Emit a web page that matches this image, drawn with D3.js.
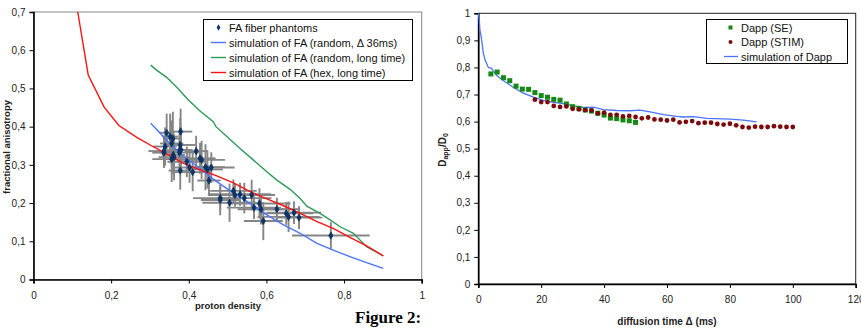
<!DOCTYPE html>
<html>
<head>
<meta charset="utf-8">
<script src="https://cdn.jsdelivr.net/npm/d3@7"></script>
<style>
  body { margin: 0; background: #fff; }
  svg { font-family: "Liberation Sans", Arial, sans-serif; }
  .tick text { font-size: 10px; fill: #222; }
  .axTitle { font-size: 9.5px; font-weight: bold; fill: #222; }
  .leg { font-size: 11px; fill: #111; }
</style>
</head>
<body>
<svg id="fig" width="861" height="328"></svg>
<script>
// ---- left chart: FA vs proton density ----
const phantomPD  = [0.343,0.379,0.352,0.359,0.356,0.339,0.336,0.378,0.380,0.376,0.362,0.356,0.395,0.378,0.402,0.410,0.419,0.429,0.433,0.443,0.448,0.458,0.452,0.481,0.481,0.505,0.515,0.519,0.532,0.543,0.562,0.582,0.568,0.586,0.592,0.627,0.651,0.657,0.671,0.684,0.766,0.360,0.336,0.377];
const phantomFA  = [0.384,0.387,0.374,0.369,0.356,0.348,0.336,0.352,0.339,0.332,0.320,0.315,0.308,0.285,0.293,0.281,0.336,0.317,0.313,0.294,0.288,0.293,0.259,0.213,0.208,0.201,0.232,0.221,0.223,0.213,0.221,0.199,0.188,0.184,0.153,0.184,0.173,0.164,0.175,0.162,0.115,0.326,0.332,0.339];
const phantomPDErr = [0.02,0.03,0.02,0.02,0.03,0.03,0.04,0.04,0.03,0.05,0.04,0.05,0.05,0.03,0.04,0.05,0.03,0.04,0.06,0.05,0.04,0.06,0.03,0.07,0.05,0.07,0.06,0.07,0.08,0.07,0.06,0.08,0.07,0.06,0.05,0.06,0.07,0.08,0.07,0.06,0.10,0.03,0.03,0.03];
const phantomFAErr = [0.05,0.06,0.06,0.07,0.06,0.05,0.04,0.07,0.06,0.05,0.06,0.06,0.04,0.05,0.04,0.05,0.04,0.04,0.05,0.06,0.05,0.04,0.04,0.03,0.04,0.05,0.03,0.03,0.03,0.04,0.04,0.04,0.03,0.04,0.05,0.03,0.03,0.04,0.03,0.03,0.035,0.05,0.04,0.06];

const simRandomPD = [0.302,0.343,0.386,0.429,0.455,0.472,0.515,0.558,0.601,0.644,0.687,0.729,0.772,0.815,0.858,0.901];
const simRandomFA = [0.409,0.365,0.322,0.291,0.269,0.256,0.226,0.199,0.169,0.143,0.121,0.095,0.077,0.060,0.044,0.029];

const simLongPD = [0.302,0.317,0.343,0.369,0.399,0.429,0.463,0.470,0.498,0.532,0.566,0.601,0.627,0.661,0.687,0.704,0.738,0.764,0.790,0.824,0.858,0.901];
const simLongFA = [0.561,0.548,0.529,0.503,0.470,0.441,0.413,0.400,0.374,0.343,0.313,0.282,0.260,0.236,0.212,0.192,0.173,0.156,0.138,0.121,0.086,0.062];

const simHexPD = [0.114,0.141,0.182,0.220,0.266,0.304,0.343,0.386,0.429,0.472,0.515,0.558,0.601,0.644,0.687,0.729,0.772,0.815,0.858,0.901];
const simHexFA = [0.700,0.535,0.451,0.403,0.372,0.350,0.329,0.304,0.287,0.271,0.253,0.230,0.211,0.193,0.173,0.152,0.134,0.110,0.088,0.062];

const leftLegend = ["FA fiber phantoms", "simulation of FA (random, \u0394 36ms)", "simulation of FA (random, long time)", "simulation of FA (hex, long time)"];

// ---- right chart: Dapp/D0 vs diffusion time ----
const seTime = [4,6,8,10,12,14,16,18,20,22,24,26,28,30,32,34,36,38,40,42,44,46,48,50];
const seDapp = [0.776,0.783,0.762,0.751,0.731,0.720,0.719,0.707,0.696,0.690,0.682,0.679,0.665,0.655,0.649,0.643,0.639,0.631,0.624,0.613,0.611,0.606,0.603,0.597];

const stimTime = [18,20,22,24,26,28,30,32,34,36,38,40,42,44,46,48,50,52,54,56,58,60,62,64,66,68,70,72,74,76,78,80,82,84,86,88,90,92,94,96,98,100];
const stimDapp = [0.681,0.672,0.672,0.658,0.654,0.656,0.647,0.645,0.642,0.641,0.630,0.633,0.625,0.625,0.619,0.621,0.617,0.612,0.615,0.608,0.607,0.604,0.607,0.597,0.599,0.602,0.594,0.596,0.596,0.591,0.589,0.592,0.586,0.580,0.578,0.581,0.580,0.580,0.583,0.581,0.580,0.580];

const simTime = [0,0.3,0.5,1.06,1.6,2.1,3.2,4.2,5.8,8,11.1,14.3,17.5,20.7,23.9,27,30.2,33.4,36.6,39.8,44,48.3,51.4,54.6,58.9,63.1,65.2,68.4,72.6,80.1,84.3,88.5];
const simDapp = [1.0,0.977,0.94,0.903,0.853,0.829,0.800,0.797,0.771,0.751,0.727,0.705,0.690,0.678,0.671,0.666,0.658,0.652,0.653,0.644,0.641,0.640,0.642,0.636,0.626,0.619,0.617,0.618,0.612,0.609,0.605,0.599];

const rightLegend = ["Dapp (SE)", "Dapp (STIM)", "simulation of Dapp"];

const svg = d3.select("#fig");
const comma = d => d === 0 ? "0" : (Number.isInteger(d) ? String(d) : d3.format(".1f")(d).replace(".", ","));

// ================= LEFT =================
const L = { left: 33.5, right: 421.7, top: 12, bottom: 279.5 };
const xL = d3.scaleLinear().domain([0, 1]).range([L.left, L.right]);
const yL = d3.scaleLinear().domain([0, 0.7]).range([L.bottom, L.top]);

svg.append("rect").attr("x", L.left).attr("y", L.top)
  .attr("width", L.right - L.left).attr("height", L.bottom - L.top)
  .attr("fill", "none").attr("stroke", "#888").attr("stroke-width", 1);

const gLx = svg.append("g").attr("transform", `translate(0,${L.bottom})`)
  .call(d3.axisBottom(xL).tickValues([0, 0.2, 0.4, 0.6, 0.8, 1]).tickSize(4).tickPadding(8).tickFormat(comma));
const gLy = svg.append("g").attr("transform", `translate(${L.left},0)`)
  .call(d3.axisLeft(yL).tickValues(d3.range(0, 0.71, 0.1).map(v => +v.toFixed(1))).tickSize(4).tickPadding(4).tickFormat(comma));
[gLx, gLy].forEach(g => {
  g.select(".domain").attr("stroke", "#000").attr("stroke-width", 1.6);
  g.selectAll(".tick line").attr("stroke", "#000");
});

// error bars
const phantoms = phantomPD.map((x, i) => ({ x, y: phantomFA[i], ex: phantomPDErr[i], ey: phantomFAErr[i] }));
const eb = svg.append("g").attr("stroke", "#858585").attr("stroke-width", 1.9);
eb.selectAll(".h").data(phantoms).join("line")
  .attr("x1", d => xL(d.x - d.ex)).attr("x2", d => xL(d.x + d.ex))
  .attr("y1", d => yL(d.y)).attr("y2", d => yL(d.y));
eb.selectAll(".v").data(phantoms).join("line").attr("class", "v")
  .attr("x1", d => xL(d.x)).attr("x2", d => xL(d.x))
  .attr("y1", d => yL(d.y - d.ey)).attr("y2", d => yL(d.y + d.ey));

const lineL = d3.line().x(d => xL(d[0])).y(d => yL(d[1]));
const leftCurves = [
  { px: simRandomPD, py: simRandomFA, color: "#4a74ff" },
  { px: simLongPD, py: simLongFA, color: "#2e9a5a" },
  { px: simHexPD, py: simHexFA, color: "#ff1010" }
];
leftCurves.forEach(c => {
  svg.append("path").datum(c.px.map((x, i) => [x, c.py[i]]))
    .attr("d", lineL).attr("fill", "none").attr("stroke", c.color).attr("stroke-width", 1.4);
});

const diamond = d3.symbol().type(d3.symbolDiamond).size(15);
svg.append("g").selectAll("path").data(phantoms).join("path")
  .attr("d", diamond).attr("transform", d => `translate(${xL(d.x)},${yL(d.y)})`)
  .attr("fill", "#0c3466").attr("stroke", "#0c3466").attr("stroke-width", 0.8);

svg.append("text").attr("class", "axTitle").attr("x", 228).attr("y", 309)
  .attr("text-anchor", "middle").text("proton density");
svg.append("text").attr("class", "axTitle").attr("transform", "translate(10,147) rotate(-90)")
  .attr("text-anchor", "middle").text("fractional anisotropy");

// legend left
const lg = svg.append("g");
lg.append("rect").attr("x", 203.5).attr("y", 19.5).attr("width", 209).attr("height", 61)
  .attr("fill", "#fff").attr("stroke", "#000").attr("stroke-width", 1);
leftLegend.forEach((t, i) => {
  const yy = 27.5 + i * 15;
  if (i === 0) {
    lg.append("path").attr("d", d3.symbol().type(d3.symbolDiamond).size(12))
      .attr("transform", `translate(218.5,${yy})`).attr("fill", "#0c3466");
  } else {
    lg.append("line").attr("x1", 211).attr("x2", 226).attr("y1", yy).attr("y2", yy)
      .attr("stroke", leftCurves[i - 1].color).attr("stroke-width", 1.4);
  }
  lg.append("text").attr("class", "leg").attr("x", 229).attr("y", yy + 4).text(t);
});

// ================= RIGHT =================
const R = { left: 478.3, right: 855.7, top: 13.3, bottom: 284 };
const xR = d3.scaleLinear().domain([0, 120]).range([R.left, R.right]);
const yR = d3.scaleLinear().domain([0, 1]).range([R.bottom, R.top]);

svg.append("rect").attr("x", R.left).attr("y", R.top)
  .attr("width", R.right - R.left).attr("height", R.bottom - R.top)
  .attr("fill", "none").attr("stroke", "#222").attr("stroke-width", 1);

const gRx = svg.append("g").attr("transform", `translate(0,${R.bottom})`)
  .call(d3.axisBottom(xR).tickValues(d3.range(0, 121, 20)).tickSize(4).tickPadding(8).tickFormat(comma));
const gRy = svg.append("g").attr("transform", `translate(${R.left},0)`)
  .call(d3.axisLeft(yR).tickValues(d3.range(0, 1.01, 0.1).map(v => +v.toFixed(1))).tickSize(4).tickPadding(4).tickFormat(comma));
[gRx, gRy].forEach(g => {
  g.select(".domain").attr("stroke", "#000").attr("stroke-width", 1.6);
  g.selectAll(".tick line").attr("stroke", "#000");
});

const lineR = d3.line().x(d => xR(d[0])).y(d => yR(d[1]));
svg.append("path").datum(simTime.map((t, i) => [t, simDapp[i]]))
  .attr("d", lineR).attr("fill", "none").attr("stroke", "#4a74ff").attr("stroke-width", 1.3);

svg.append("g").selectAll("rect").data(seTime.map((t, i) => [t, seDapp[i]])).join("rect")
  .attr("x", d => xR(d[0]) - 2.5).attr("y", d => yR(d[1]) - 2.5)
  .attr("width", 5).attr("height", 5).attr("fill", "#138a13");

svg.append("g").selectAll("circle").data(stimTime.map((t, i) => [t, stimDapp[i]])).join("circle")
  .attr("cx", d => xR(d[0])).attr("cy", d => yR(d[1])).attr("r", 2.4).attr("fill", "#7d0a0a");

svg.append("text").attr("class", "axTitle").style("font-size", "10px")
  .attr("x", 667).attr("y", 325).attr("text-anchor", "middle").text("diffusion time \u0394 (ms)");
const yt = svg.append("text").attr("class", "axTitle").style("font-size", "10px")
  .attr("transform", "translate(446,150) rotate(-90)").attr("text-anchor", "middle");
yt.append("tspan").text("D");
yt.append("tspan").attr("dy", 2).style("font-size", "7px").text("app");
yt.append("tspan").attr("dy", -2).text("/D");
yt.append("tspan").attr("dy", 2).style("font-size", "7px").text("0");

// legend right
const rg = svg.append("g");
rg.append("rect").attr("x", 706.5).attr("y", 19.5).attr("width", 141).attr("height", 44)
  .attr("fill", "#fff").attr("stroke", "#000").attr("stroke-width", 1);
rightLegend.forEach((t, i) => {
  const yy = 27.5 + i * 14.5;
  if (i === 0) {
    rg.append("rect").attr("x", 728.5).attr("y", yy - 2).attr("width", 4).attr("height", 4).attr("fill", "#138a13");
  } else if (i === 1) {
    rg.append("circle").attr("cx", 730.5).attr("cy", yy).attr("r", 2).attr("fill", "#7d0a0a");
  } else {
    rg.append("line").attr("x1", 724).attr("x2", 738).attr("y1", yy).attr("y2", yy)
      .attr("stroke", "#4a74ff").attr("stroke-width", 1.3);
  }
  rg.append("text").attr("class", "leg").attr("x", 741).attr("y", yy + 4).text(t);
});

// caption
svg.append("text").attr("x", 355).attr("y", 323)
  .style("font-family", "'Liberation Serif', 'Times New Roman', serif")
  .style("font-size", "17px").style("font-weight", "bold").text("Figure 2:");
</script>
</body>
</html>
